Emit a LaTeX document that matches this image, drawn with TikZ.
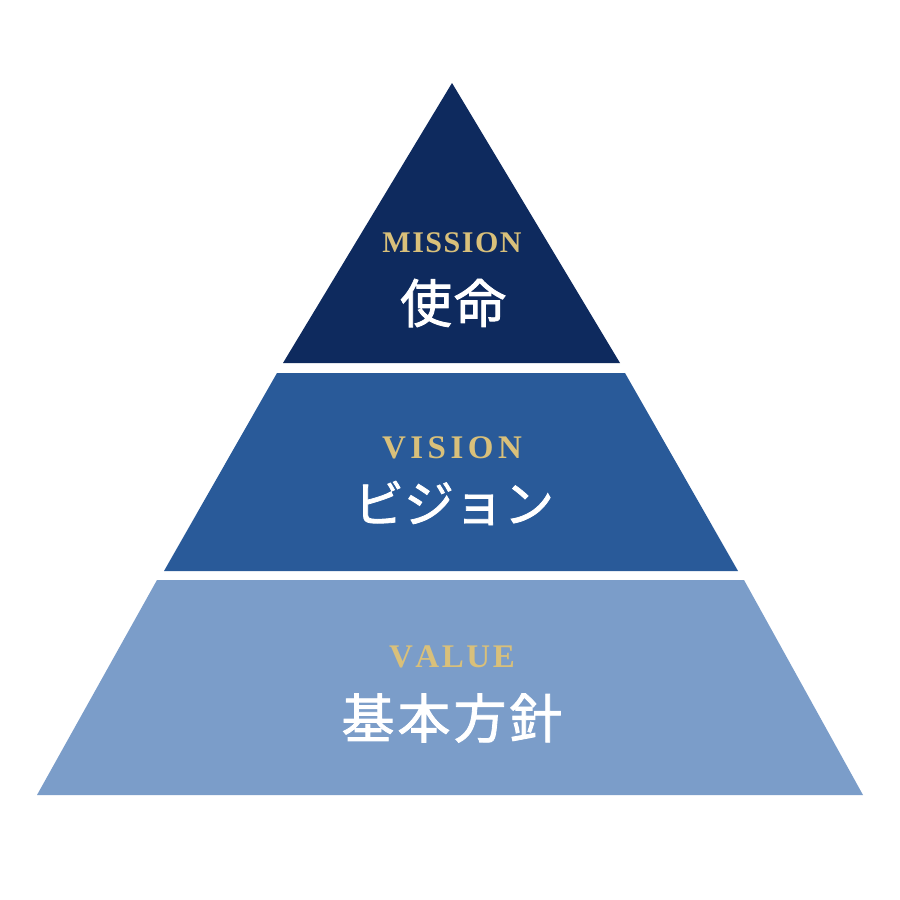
\documentclass[tikz,border=0pt]{standalone}
\usepackage{fontspec}
\setmainfont{Liberation Serif}
\newfontfamily\cjk[FakeBold=1.6]{Noto Sans CJK JP}
\definecolor{navy}{HTML}{0E2A5E}
\definecolor{midblue}{HTML}{295A99}
\definecolor{lightblue}{HTML}{7B9DC9}
\definecolor{gold}{HTML}{D9C07A}
\newcommand\tk[1]{\kern#1}
\begin{document}
\begin{tikzpicture}[x=1pt,y=-1pt,
  entitle/.style={text=gold, inner sep=0pt, anchor=base, font=\bfseries\fontsize{30}{30}\selectfont},
  jptitle/.style={text=white, inner sep=0pt, anchor=center, font=\cjk\fontsize{52}{52}\selectfont}]
\useasboundingbox (0,0) rectangle (900,900);
\fill[white] (0,0) rectangle (900,900);
% bands
\fill[navy] (452,83) -- (620,363) -- (283,363) -- cycle;
\fill[midblue] (277,373) -- (625,373) -- (738,571) -- (164,571) -- cycle;
\fill[lightblue] (157,580) -- (744,580) -- (863,795) -- (37,795) -- cycle;
% texts
\node[entitle] (mis) at (452,252) {M\tk{1.5pt}I\tk{1.5pt}S\tk{1.5pt}S\tk{1.5pt}I\tk{1.5pt}O\tk{1.5pt}N};
\node[jptitle] (shimei) at (453,303) {使\tk{2pt}命};
\node[entitle, font=\bfseries\fontsize{33}{33}\selectfont] (vis) at (452,458) {V\tk{4.5pt}I\tk{4.5pt}S\tk{4.5pt}I\tk{4.5pt}O\tk{4.5pt}N};
\node[jptitle, font=\cjk\fontsize{50}{50}\selectfont] (vision) at (454,503) {ビジョン};
\node[entitle, font=\bfseries\fontsize{33}{33}\selectfont] (val) at (452,667) {V\tk{2.6pt}A\tk{2.6pt}L\tk{2.6pt}U\tk{2.6pt}E};
\node[jptitle, font=\cjk\fontsize{53}{53}\selectfont] (value) at (452,718) {基\tk{3pt}本\tk{3pt}方\tk{3pt}針};
\end{tikzpicture}
\end{document}
